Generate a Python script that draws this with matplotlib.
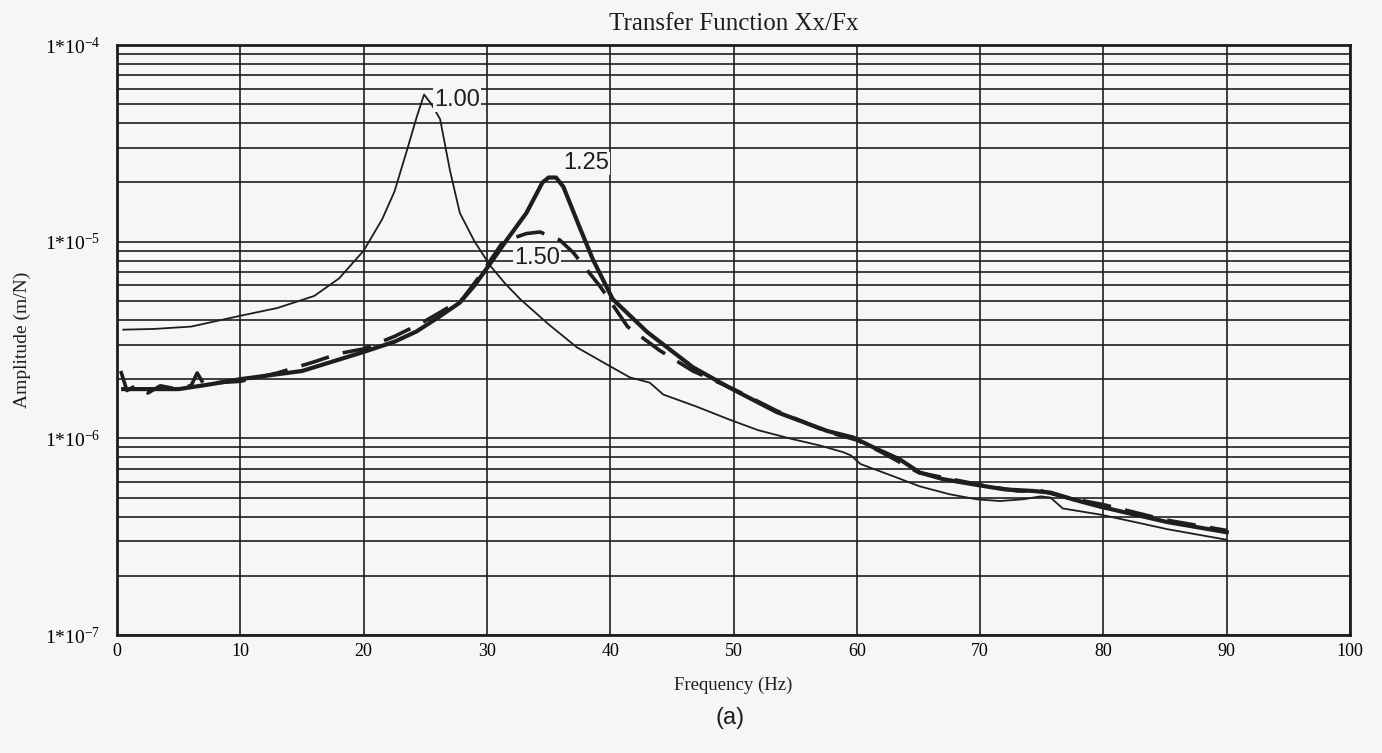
import math

import matplotlib
matplotlib.use("Agg")
import matplotlib.pyplot as plt
from matplotlib.ticker import LogLocator, FuncFormatter, NullFormatter, MultipleLocator

plt.rcParams["font.family"] = ["Liberation Serif", "DejaVu Serif"]
plt.rcParams["mathtext.fontset"] = "custom"
plt.rcParams["mathtext.rm"] = "Liberation Serif"
plt.rcParams["mathtext.default"] = "regular"

# ratio 1.00 (thin line)
freq_100 = [0.5, 3, 6, 10, 13, 16, 18, 20, 21.5, 22.5, 23.5, 24.3, 24.9, 25.5, 26.2,
            27, 27.8, 29, 30.3, 31.5, 32.7, 35, 37.3, 39.7, 41.6, 43.2, 44.3, 47,
            49.6, 52, 54.8, 57, 58.9, 59.5, 60.3, 63, 65.1, 67.5, 69.7, 71.6, 73.5,
            74.9, 75.7, 76.7, 79.7, 83, 85.2, 90]
amp_100 = [3.57e-6, 3.6e-6, 3.7e-6, 4.2e-6, 4.6e-6, 5.3e-6, 6.5e-6, 9.0e-6, 1.3e-5,
           1.8e-5, 2.9e-5, 4.3e-5, 5.6e-5, 5.0e-5, 4.2e-5, 2.3e-5, 1.4e-5, 1.0e-5,
           7.5e-6, 6.1e-6, 5.1e-6, 3.8e-6, 2.9e-6, 2.38e-6, 2.04e-6, 1.92e-6, 1.67e-6,
           1.45e-6, 1.25e-6, 1.1e-6, 9.9e-7, 9.2e-7, 8.5e-7, 8.2e-7, 7.4e-7, 6.4e-7,
           5.7e-7, 5.2e-7, 4.9e-7, 4.8e-7, 4.9e-7, 5.07e-7, 5.0e-7, 4.4e-7, 4.1e-7,
           3.7e-7, 3.45e-7, 3.05e-7]

# ratio 1.25 (thick line)
freq_125 = [0.5, 3, 5, 7.5, 10, 15, 20, 22.5, 24.3, 26, 27.8, 29, 30.3, 31.6, 33.2,
            34.5, 35.0, 35.6, 36.2, 37.5, 38.6, 40.2, 43, 46.7, 49.6, 53.5, 57.6,
            59.7, 61.5, 63.5, 65.1, 67, 69.7, 72, 74.3, 75.7, 77.5, 79.7, 82.5, 85.2, 90]
amp_125 = [1.78e-6, 1.78e-6, 1.78e-6, 1.88e-6, 2.0e-6, 2.2e-6, 2.75e-6, 3.1e-6, 3.5e-6,
           4.1e-6, 4.9e-6, 6.0e-6, 7.8e-6, 1.02e-5, 1.4e-5, 2.0e-5, 2.12e-5, 2.12e-5,
           1.9e-5, 1.19e-5, 8.1e-6, 5.1e-6, 3.47e-6, 2.3e-6, 1.82e-6, 1.36e-6, 1.09e-6,
           1.01e-6, 8.9e-7, 7.8e-7, 6.7e-7, 6.2e-7, 5.8e-7, 5.5e-7, 5.4e-7, 5.3e-7,
           4.9e-7, 4.5e-7, 4.1e-7, 3.75e-7, 3.33e-7]

# ratio 1.50 (dashed line)
freq_150 = [0.3, 0.8, 1.5, 2.5, 3.5, 4.5, 6, 6.5, 7, 10, 13, 16, 18, 20, 22.5, 24.5,
            26, 28, 29.5, 31.3, 33.2, 34.3, 35.9, 37, 38.1, 39.2, 41.4, 44, 46.7, 50,
            53.5, 57.6, 60, 62, 65, 70, 73, 75, 77, 80, 85, 90]
amp_150 = [2.2e-6, 1.75e-6, 1.85e-6, 1.7e-6, 1.85e-6, 1.8e-6, 1.85e-6, 2.15e-6, 1.9e-6,
           1.95e-6, 2.15e-6, 2.45e-6, 2.7e-6, 2.85e-6, 3.3e-6, 3.8e-6, 4.3e-6, 5.1e-6,
           6.8e-6, 1.0e-5, 1.1e-5, 1.12e-5, 1.02e-5, 8.8e-6, 7.2e-6, 5.9e-6, 3.7e-6,
           2.8e-6, 2.2e-6, 1.78e-6, 1.38e-6, 1.08e-6, 9.8e-7, 8.5e-7, 6.7e-7, 5.8e-7,
           5.4e-7, 5.4e-7, 5.0e-7, 4.6e-7, 3.85e-7, 3.4e-7]

curve_labels = ["1.00", "1.25", "1.50"]
label_pos = [(25.7, 5.25e-5), (36.2, 2.5e-5), (32.2, 8.3e-6)]

bg = "#f6f6f4"
ink = "#1e1e1e"

fig = plt.figure(figsize=(13.82, 7.53), dpi=100, facecolor=bg)
ax = fig.add_axes([0.0847, 0.1567, 0.8922, 0.7835], facecolor=bg)

ax.plot(freq_100, amp_100, color=ink, lw=1.3)
ax.plot(freq_125, amp_125, color=ink, lw=3.0)
ax.plot(freq_150, amp_150, color=ink, lw=2.6, dashes=(8, 4))

ax.set_yscale("log")
ax.set_xlim(0, 100)
ax.set_ylim(1e-7, 1e-4)
ax.xaxis.set_major_locator(MultipleLocator(10))
ax.yaxis.set_major_locator(LogLocator(base=10, numticks=10))
ax.yaxis.set_minor_locator(LogLocator(base=10, subs=range(2, 10), numticks=20))
ax.yaxis.set_minor_formatter(NullFormatter())


def fmt_pow(v, pos):
    e = int(round(math.log10(v)))
    return "1*10$^{\u2212%d}$" % (-e)


ax.yaxis.set_major_formatter(FuncFormatter(fmt_pow))

ax.grid(True, which="major", color=ink, lw=1.2)
ax.grid(True, which="minor", axis="y", color=ink, lw=1.2)
ax.tick_params(which="both", length=0)
ax.tick_params(axis="x", labelsize=13, pad=6)
ax.tick_params(axis="y", labelsize=14, pad=12)
for s in ax.spines.values():
    s.set_color(ink)
    s.set_linewidth(2)

for txt, (lx, ly) in zip(curve_labels, label_pos):
    ax.text(lx, ly, txt, family=["Liberation Sans", "DejaVu Sans"], fontsize=17,
            ha="left", va="center", color=ink,
            bbox=dict(facecolor=bg, edgecolor="none", pad=0.5))

ax.set_title("Transfer Function Xx/Fx", fontsize=18, pad=11, color=ink)
ax.set_xlabel("Frequency (Hz)", fontsize=13.5, labelpad=12, color=ink)
ax.set_ylabel("Amplitude (m/N)", fontsize=14, labelpad=10, color=ink)

fig.text(0.528, 0.046, "(a)", family=["Liberation Sans", "DejaVu Sans"],
         fontsize=17, ha="center", va="center", color=ink)

fig.savefig("out.png", dpi=100, facecolor=bg)
